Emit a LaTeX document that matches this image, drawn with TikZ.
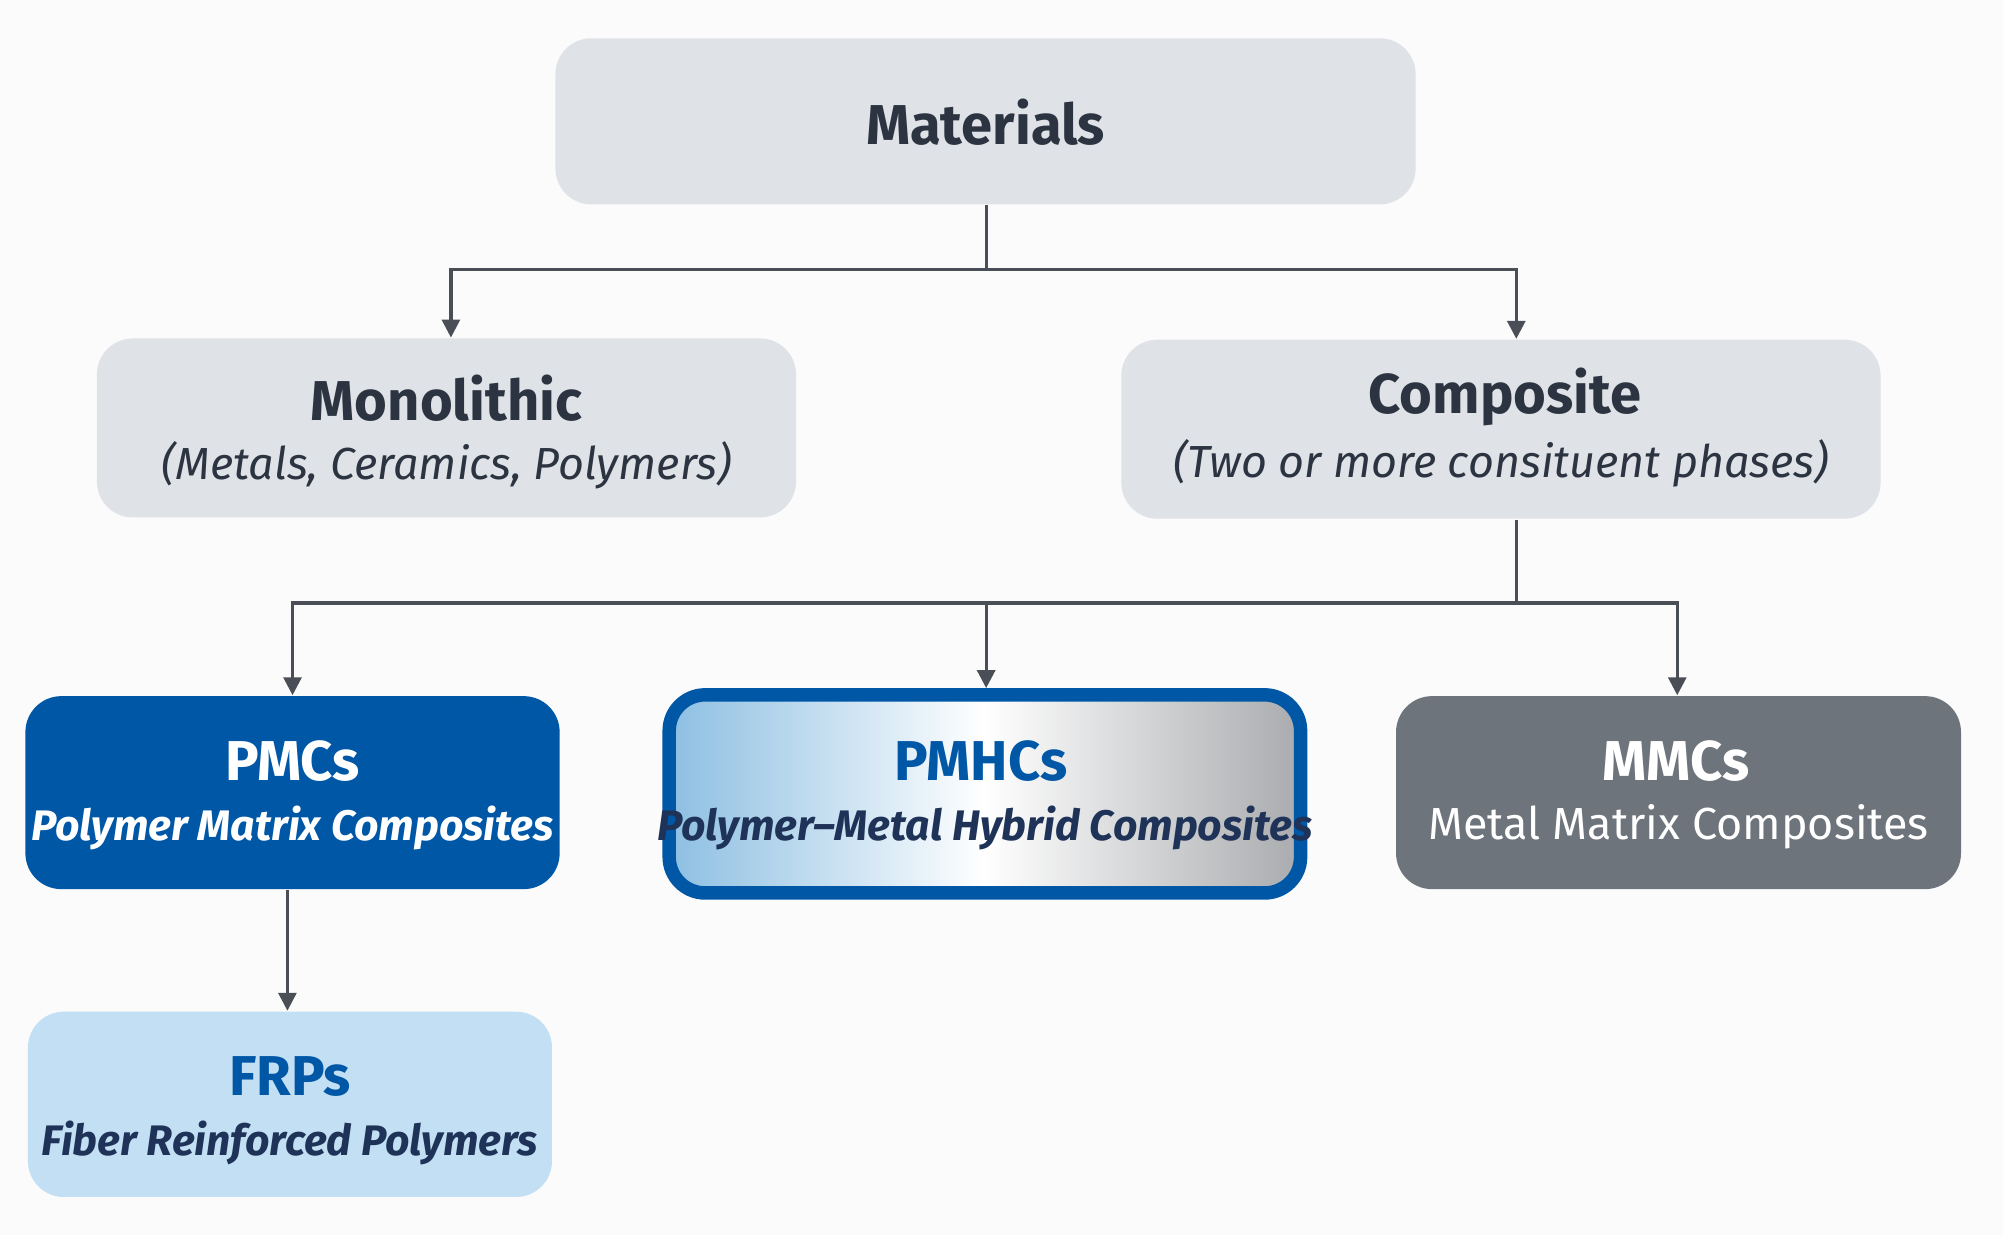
\documentclass[tikz,border=0pt]{standalone}
\usepackage{fontspec}
\setmainfont{Fira Sans}
\usetikzlibrary{arrows.meta}
\definecolor{boxgray}{HTML}{DFE2E6}
\definecolor{txtdark}{HTML}{2B3440}
\definecolor{pblue}{HTML}{0057A6}
\definecolor{mgray}{HTML}{6E747B}
\definecolor{lblue}{HTML}{C2DFF3}
\definecolor{lnk}{HTML}{4A4F57}
\definecolor{gl}{HTML}{8DBFE2}
\definecolor{gr}{HTML}{A9ABAE}
\definecolor{navy}{HTML}{1E3357}
\begin{document}
\begin{tikzpicture}[x=0.01cm,y=-0.01cm,
  box/.style={rounded corners=8pt,inner sep=0pt,align=center},
  ttl/.style={font=\fontsize{12.5}{15}\selectfont\bfseries},
  sub/.style={font=\fontsize{10}{12}\selectfont\itshape},
  bsub/.style={font=\fontsize{9.5}{12}\selectfont\bfseries\itshape},
  link/.style={draw=lnk,line width=0.7pt},
  arr/.style={link,-{Triangle[length=4pt,width=4pt]}}]
\fill[white!97!gray] (0,0) rectangle (1568,967);
\useasboundingbox (0,0) rectangle (1568,967);
% boxes
\node[box,fill=boxgray,minimum width=6.73cm,minimum height=1.30cm] (mat) at (771.5,95) {};
\node[ttl,text=txtdark] at (771.5,96) {Materials};
\node[box,fill=boxgray,minimum width=5.47cm,minimum height=1.40cm] (mono) at (349.5,335) {};
\node[ttl,text=txtdark] at (349.5,312) {Monolithic};
\node[sub,text=txtdark] at (349.5,364) {(Metals, Ceramics, Polymers)};
\node[box,fill=boxgray,minimum width=5.94cm,minimum height=1.40cm] (comp) at (1175,336) {};
\node[ttl,text=txtdark] at (1178,311) {Composite};
\node[sub,text=txtdark] at (1175,363) {(Two or more consituent phases)};
\node[box,fill=pblue,minimum width=4.18cm,minimum height=1.51cm] (pmc) at (229,620.5) {};
\node[ttl,text=white] at (229,596) {PMCs};
\node[bsub,text=white] at (229,648) {Polymer Matrix Composites};
\node[box,draw=pblue,line width=3pt,left color=gl,right color=gr,middle color=white,minimum width=4.94cm,minimum height=1.55cm] (pmh) at (771,621.5) {};
\node[ttl,text=pblue] at (768,596) {PMHCs};
\node[bsub,text=navy] at (771,648) {Polymer–Metal Hybrid Composites};
\node[box,fill=mgray,minimum width=4.42cm,minimum height=1.51cm] (mmc) at (1314,620.5) {};
\node[ttl,text=white] at (1312,596) {MMCs};
\node[text=white,font=\fontsize{10}{12}\selectfont] at (1314,647) {Metal Matrix Composites};
\node[box,fill=lblue,minimum width=4.10cm,minimum height=1.45cm] (frp) at (227,864.5) {};
\node[ttl,text=pblue] at (227,843) {FRPs};
\node[bsub,text=navy] at (227,895) {Fiber Reinforced Polymers};
% connectors
\coordinate (j1) at (772,211);
\coordinate (j2) at (1187,472);
\draw[link] (mat.south -| j1) -- (j1);
\draw[arr] (j1) -| (mono.north -| 353,0);
\draw[arr] (j1) -| (comp.north -| 1187,0);
\draw[link] (comp.south -| j2) -- (j2);
\draw[arr] (j2) -| (pmc.north -| 229,0);
\draw[arr] (772,472) -- (pmh.north -| 772,0);
\draw[arr] (j2) -| (mmc.north -| 1313,0);
\draw[arr] (pmc.south -| 225,0) -- (frp.north -| 225,0);
\end{tikzpicture}
\end{document}
